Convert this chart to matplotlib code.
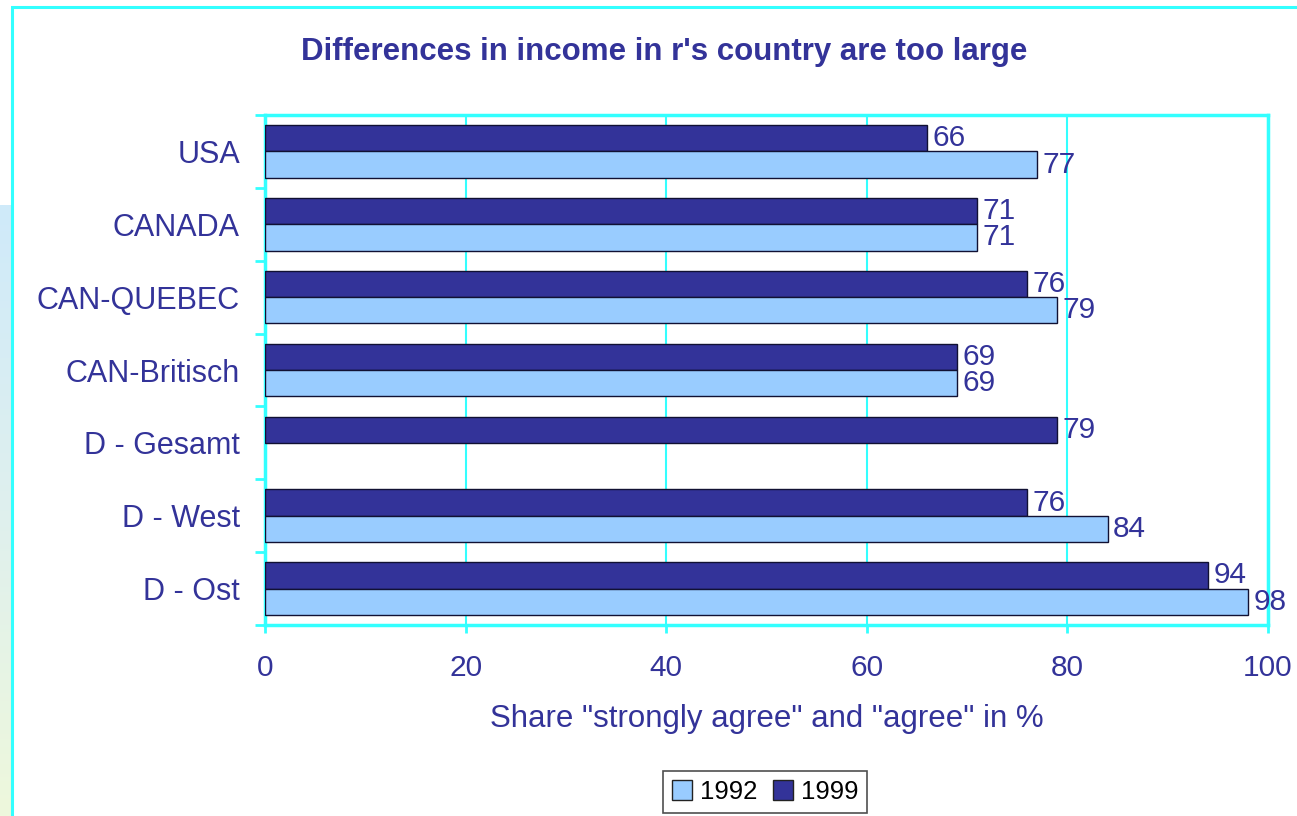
import numpy as np
import matplotlib
matplotlib.use("Agg")
import matplotlib.pyplot as plt
from matplotlib.patches import Rectangle, Patch
from matplotlib.colors import LinearSegmentedColormap

# Survey shares ("strongly agree" + "agree", %) by region
categories = ["USA", "CANADA", "CAN-QUEBEC", "CAN-Britisch", "D - Gesamt", "D - West", "D - Ost"]
values_1999 = [66, 71, 76, 69, 79, 76, 94]
values_1992 = [77, 71, 79, 69, None, 84, 98]
x_ticks = [0, 20, 40, 60, 80, 100]

W, H = 1297, 816
plt.rcParams["font.family"] = ["Liberation Sans", "DejaVu Sans"]
fig = plt.figure(figsize=(W / 100, H / 100), dpi=100)

NAVY = "#333399"
LIGHT = "#99CCFF"
CYAN = "#33FFFF"

# soft slide background strip on the left edge
bg = fig.add_axes([0, 0, 12 / W, 1 - 205 / H])
grad = np.linspace(0, 1, 256).reshape(-1, 1)
cmap = LinearSegmentedColormap.from_list("bg", ["#eef8dc", "#dff0ee", "#cfeafa"])
bg.imshow(grad, aspect="auto", cmap=cmap, origin="lower", extent=[0, 1, 0, 1])
bg.axis("off")

# outer frame of the chart object
fig.patches.append(Rectangle((12 / W, -0.1), 1.2, 1 - 7 / H + 0.1, transform=fig.transFigure,
                             fill=False, edgecolor=CYAN, linewidth=2.2, zorder=5))

ax = fig.add_axes([265 / W, 1 - 625 / H, (1268 - 265) / W, (625 - 115) / H])
y = np.arange(len(categories))
h = 0.36

v92 = np.array([np.nan if v is None else v for v in values_1992], dtype=float)
ax.barh(y - h / 2, values_1999, height=h, color=NAVY, edgecolor="#111133", linewidth=1.0, zorder=3)
mask = ~np.isnan(v92)
ax.barh(y[mask] + h / 2, v92[mask], height=h, color=LIGHT, edgecolor="#111133", linewidth=1.0, zorder=3)

for yi, v in zip(y, values_1999):
    ax.text(v + 0.55, yi - h / 2, f"{v}", color=NAVY, fontsize=21.5, va="center", ha="left", zorder=4)
for yi, v in zip(y, values_1992):
    if v is not None:
        ax.text(v + 0.55, yi + h / 2, f"{v}", color=NAVY, fontsize=21.5, va="center", ha="left", zorder=4)

ax.set_xlim(0, 100)
ax.set_ylim(len(categories) - 0.5, -0.5)
ax.set_xticks(x_ticks)
ax.set_xticklabels([str(t) for t in x_ticks], fontsize=21.5, color=NAVY)
ax.set_yticks(y)
ax.set_yticklabels(categories, fontsize=22, color=NAVY)
ax.set_yticks(np.arange(-0.5, len(categories), 1), minor=True)
ax.tick_params(axis="y", which="major", length=0, pad=18)
ax.tick_params(axis="y", which="minor", length=7, width=2, color=CYAN, direction="out")
ax.tick_params(axis="x", length=6, width=2, color=CYAN, direction="out", pad=15)

ax.grid(axis="x", color=CYAN, linewidth=1.5, zorder=0)
ax.set_axisbelow(True)
for s in ax.spines.values():
    s.set_color(CYAN)
    s.set_linewidth(2.5)

ax.set_xlabel('Share "strongly agree" and "agree" in %', fontsize=22.5, color=NAVY, labelpad=16)

fig.text(664 / W, 1 - 52 / H, "Differences in income in r's country are too large",
         fontsize=22.5, fontweight="bold", color=NAVY, ha="center", va="center")

handles = [Patch(facecolor=LIGHT, edgecolor="#222222", label="1992"),
           Patch(facecolor=NAVY, edgecolor="#222222", label="1999")]
leg = fig.legend(handles=handles, loc="center", bbox_to_anchor=(765 / W, 1 - 792 / H), ncol=2,
                 frameon=True, fancybox=False, fontsize=18.5, handlelength=0.8, handleheight=0.8,
                 handletextpad=0.3, columnspacing=0.6, borderpad=0.35, borderaxespad=0)
leg.get_frame().set_edgecolor("#222222")
leg.get_frame().set_linewidth(1.2)

fig.savefig("out.png", dpi=100)
